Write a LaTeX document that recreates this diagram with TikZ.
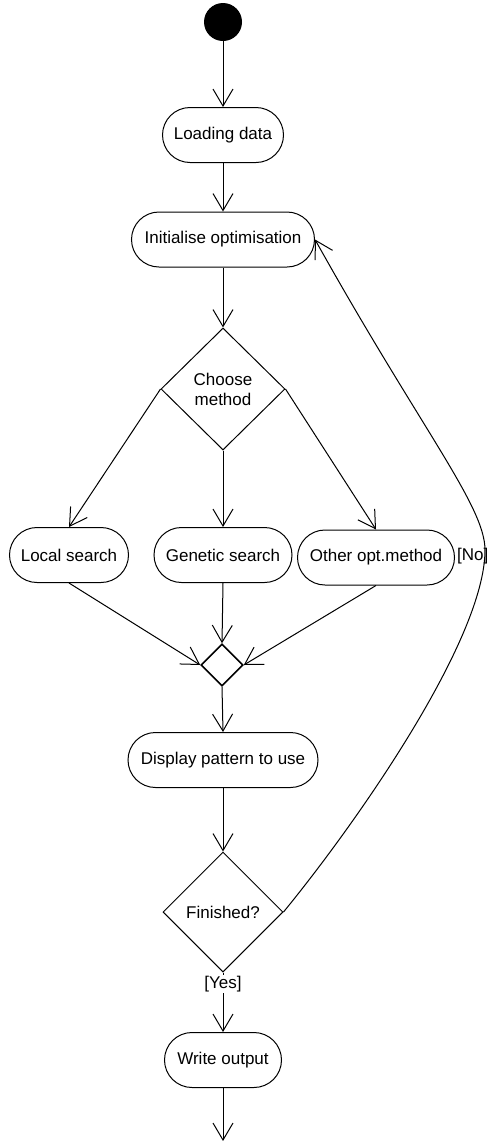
\documentclass[tikz,border=0pt]{standalone}
\usepackage{fontspec}
\setmainfont{Liberation Sans}
\usetikzlibrary{arrows.meta,shapes.geometric}
\begin{document}
\begin{tikzpicture}[x=1pt,y=-1pt,
  every node/.style={font=\fontsize{17}{20}\selectfont},
  action/.style={draw, line width=1pt, rectangle, rounded corners=27.5pt,
    minimum height=55pt, inner sep=0pt},
  decision/.style={draw, line width=1pt, diamond, aspect=1, inner sep=0pt, align=center},
  mergebox/.style={draw, line width=1.6pt, diamond, minimum size=42pt, inner sep=0pt},
  flow/.style={line width=1pt, -{Straight Barb[length=17pt,width=20pt]}},
]
% canvas
\fill[white, use as bounding box] (0,0) rectangle (487,1141);

% initial state
\node[circle, fill=black, minimum size=38pt, inner sep=0pt] (start) at (223,22) {};

% activities and decisions
\node[action, minimum width=121pt] (load) at (223,135) {Loading data};
\node[action, minimum width=183pt] (init) at (223,239.5) {Initialise optimisation};
\node[decision, minimum width=124pt, minimum height=122pt] (choose) at (223,389) {Choose\\method};
\node[action, minimum width=119pt] (local) at (69,555) {Local search};
\node[action, minimum width=138pt] (genetic) at (223,555) {Genetic search};
\node[action, minimum width=157pt] (other) at (376,557.5) {Other opt.method};
\node[mergebox] (merge) at (222,665) {};
\node[action, minimum width=190pt] (display) at (223,760) {Display pattern to use};
\node[decision, minimum width=120pt, minimum height=120pt] (fin) at (223,912) {Finished?};
\node[action, minimum width=117pt] (write) at (223,1060) {Write output};
\coordinate (end) at (223,1141);
\coordinate (bend) at (485,550);
\node[anchor=west, inner sep=0pt] (no) at (457,556) {[No]};

% control flow
\draw[flow] (start) -- (load.north);
\draw[flow] (load.south) -- (init.north);
\draw[flow] (init.south) -- (choose.north);
\draw[flow] (choose.west) -- (local.north);
\draw[flow] (choose.south) -- (genetic.north);
\draw[flow] (choose.east) -- (other.north);
\draw[flow] (local.south) -- (merge.west);
\draw[flow] (genetic.south) -- (merge.north);
\draw[flow] (other.south) -- (merge.east);
\draw[flow] (merge.south) -- (display.north);
\draw[flow] (display.south) -- (fin.north);
\draw[flow] (fin.south) -- node[pos=0.19, fill=white, inner sep=1pt] (yes) {[Yes]} (write.north);
\draw[flow] (write.south) -- (end);

% loop back when not finished
\draw[flow] (fin.east) .. controls (358,821) and (485,639) .. (bend)
  .. controls (485,506) and (422,431) .. (init.east);
\end{tikzpicture}
\end{document}
